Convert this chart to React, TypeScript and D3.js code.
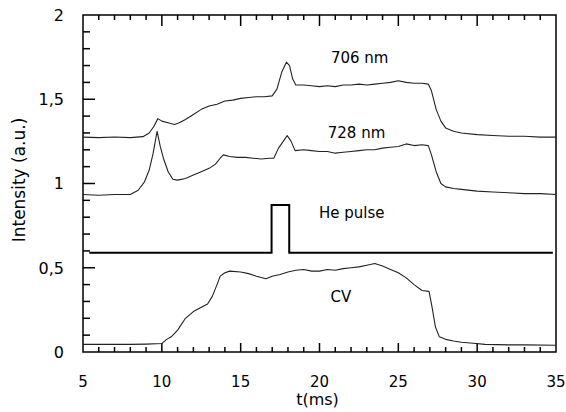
import React, { useEffect, useRef } from 'react';
import * as d3 from 'd3';

// trace data: [t (ms), intensity (a.u.)]
const trace706: [number, number][] = [
  [5.0, 1.275], [6, 1.272], [7, 1.276], [8, 1.272], [8.8, 1.278], [9.2, 1.3], [9.5, 1.34], [9.75, 1.385],
  [10.0, 1.37], [10.4, 1.36], [10.8, 1.35], [11.1, 1.36], [11.5, 1.38], [12.0, 1.41], [12.5, 1.44],
  [13.0, 1.46], [13.5, 1.47], [14.0, 1.49], [14.5, 1.495], [15, 1.505], [15.5, 1.51], [16, 1.515],
  [16.5, 1.515], [17.0, 1.52], [17.3, 1.56], [17.6, 1.66], [17.9, 1.72], [18.1, 1.7], [18.3, 1.62],
  [18.5, 1.585], [19, 1.585], [19.5, 1.58], [20, 1.575], [20.5, 1.58], [21, 1.575], [21.5, 1.585],
  [22, 1.585], [22.5, 1.59], [23, 1.585], [23.5, 1.59], [24, 1.595], [24.5, 1.6], [25, 1.61],
  [25.5, 1.6], [26, 1.595], [26.5, 1.595], [26.9, 1.59], [27.1, 1.55], [27.4, 1.44], [27.7, 1.37],
  [28.0, 1.33], [28.5, 1.31], [29, 1.3], [30, 1.29], [31, 1.285], [32, 1.28], [33, 1.28], [34, 1.275], [35, 1.275],
];

const trace728: [number, number][] = [
  [5, 0.935], [6, 0.93], [7, 0.935], [8, 0.935], [8.5, 0.96], [8.9, 1.01], [9.2, 1.08], [9.45, 1.18],
  [9.7, 1.31], [9.9, 1.22], [10.1, 1.15], [10.4, 1.07], [10.7, 1.025], [11.0, 1.02], [11.5, 1.03],
  [12, 1.05], [12.5, 1.07], [13.0, 1.09], [13.4, 1.115], [13.7, 1.15], [13.9, 1.17], [14.3, 1.16],
  [14.8, 1.155], [15.3, 1.155], [15.8, 1.15], [16.3, 1.145], [16.8, 1.15], [17.1, 1.15], [17.4, 1.21],
  [17.7, 1.25], [17.95, 1.285], [18.2, 1.25], [18.45, 1.195], [19, 1.2], [19.5, 1.195], [20, 1.19],
  [20.5, 1.19], [21, 1.18], [21.5, 1.185], [22, 1.19], [22.5, 1.195], [23, 1.2], [23.5, 1.2],
  [24, 1.21], [24.5, 1.215], [25, 1.22], [25.5, 1.235], [26, 1.225], [26.5, 1.23], [26.9, 1.225],
  [27.1, 1.17], [27.4, 1.07], [27.7, 1.0], [28, 0.98], [28.5, 0.97], [29, 0.965], [30, 0.955],
  [31, 0.95], [32, 0.945], [33, 0.94], [34, 0.94], [35, 0.935],
];

const hePulse: [number, number][] = [
  [5.4, 0.589], [16.96, 0.589], [16.96, 0.873], [18.08, 0.873], [18.08, 0.589], [34.8, 0.589],
];

const traceCV: [number, number][] = [
  [5, 0.045], [6, 0.045], [7, 0.045], [8, 0.045], [9, 0.047], [10, 0.05], [10.3, 0.075], [10.6, 0.09],
  [11, 0.13], [11.5, 0.2], [12, 0.24], [12.5, 0.265], [12.9, 0.285], [13.2, 0.33], [13.5, 0.4],
  [13.7, 0.45], [14, 0.47], [14.3, 0.48], [15, 0.475], [15.5, 0.465], [16, 0.45], [16.6, 0.435],
  [17, 0.45], [17.5, 0.46], [18, 0.475], [18.5, 0.485], [19, 0.49], [19.5, 0.48], [20, 0.48],
  [20.5, 0.49], [21, 0.485], [21.5, 0.495], [22, 0.5], [22.5, 0.505], [23, 0.515], [23.5, 0.525],
  [24, 0.51], [24.5, 0.49], [25, 0.47], [25.5, 0.44], [26, 0.4], [26.5, 0.365], [26.95, 0.36],
  [27.15, 0.26], [27.35, 0.15], [27.6, 0.09], [28, 0.075], [28.5, 0.065], [29, 0.058], [29.75, 0.052],
  [30.5, 0.045], [32, 0.042], [33, 0.042], [35, 0.04],
];

const labels: { text: string; t: number; v: number }[] = [
  { text: '706 nm', t: 22.55, v: 1.715 },
  { text: '728 nm', t: 22.35, v: 1.27 },
  { text: 'He pulse', t: 22.05, v: 0.795 },
  { text: 'CV', t: 21.35, v: 0.296 },
];

const xTickLabels = [5, 10, 15, 20, 25, 30, 35];
const yTickLabels = ['0', '0,5', '1', '1,5', '2'];

const App = () => {
  const svgRef = useRef<SVGSVGElement>(null);

  useEffect(() => {
    const svg = d3.select(svgRef.current);
    svg.selectAll('*').remove();

    const width = 566;
    const height = 412;
    const margin = { top: 15, right: 10, bottom: 60, left: 83 };

    const x = d3.scaleLinear().domain([5, 35]).range([margin.left, width - margin.right]);
    const y = d3.scaleLinear().domain([0, 2]).range([height - margin.bottom, margin.top]);
    const font = '"DejaVu Sans", Verdana, sans-serif';

    // frame
    svg.append('rect')
      .attr('x', x(5)).attr('y', y(2))
      .attr('width', x(35) - x(5)).attr('height', y(0) - y(2))
      .attr('fill', 'none').attr('stroke', '#000').attr('stroke-width', 1.5);

    // ticks
    const xMinor = d3.range(6, 35, 1);
    const yMinor = d3.range(1, 20, 1).map((d) => d / 10);
    const g = svg.append('g').attr('stroke', '#000').attr('stroke-width', 1.5);
    xMinor.forEach((t) => {
      const major = t % 5 === 0;
      g.append('line').attr('x1', x(t)).attr('x2', x(t))
        .attr('y1', y(0)).attr('y2', y(0) - (major ? 9 : 5));
      g.append('line').attr('x1', x(t)).attr('x2', x(t))
        .attr('y1', y(2)).attr('y2', y(2) + (major ? 11 : 5));
    });
    yMinor.forEach((v) => {
      const major = Math.round(v * 10) % 5 === 0;
      g.append('line').attr('x1', x(5)).attr('x2', x(5) + (major ? 12 : 7))
        .attr('y1', y(v)).attr('y2', y(v));
    });

    // tick labels
    svg.append('g').selectAll('text').data(xTickLabels).enter().append('text')
      .attr('x', (d) => x(d)).attr('y', y(0) + 35)
      .attr('text-anchor', 'middle').attr('font-family', font).attr('font-size', 15)
      .text((d) => d);
    svg.append('g').selectAll('text').data(yTickLabels).enter().append('text')
      .attr('x', x(5) - 19).attr('y', (d, i) => y(i * 0.5))
      .attr('dy', '0.36em')
      .attr('text-anchor', 'end').attr('font-family', font).attr('font-size', 16)
      .text((d) => d);

    // axis titles
    svg.append('text')
      .attr('x', (x(5) + x(35)) / 2 - 2).attr('y', height - 7)
      .attr('text-anchor', 'middle').attr('font-family', font).attr('font-size', 16)
      .text('t(ms)');
    svg.append('text')
      .attr('transform', `translate(25,${180}) rotate(-90)`)
      .attr('text-anchor', 'middle').attr('font-family', font).attr('font-size', 17)
      .text('Intensity (a.u.)');

    // traces
    const line = d3.line<[number, number]>().x((d) => x(d[0])).y((d) => y(d[1]));
    [trace706, trace728, traceCV].forEach((tr) => {
      svg.append('path').datum(tr).attr('d', line)
        .attr('fill', 'none').attr('stroke', '#222').attr('stroke-width', 1.1)
        .attr('stroke-linejoin', 'round');
    });
    svg.append('path').datum(hePulse).attr('d', line)
      .attr('fill', 'none').attr('stroke', '#000').attr('stroke-width', 2);

    // annotations
    svg.append('g').selectAll('text').data(labels).enter().append('text')
      .attr('x', (d) => x(d.t)).attr('y', (d) => y(d.v))
      .attr('text-anchor', 'middle').attr('font-family', font).attr('font-size', 15)
      .text((d) => d.text);
  }, []);

  return (
    <svg
      ref={svgRef}
      width={566}
      height={412}
      style={{ position: 'absolute', left: 0, top: 0, background: '#fff' }}
    />
  );
};

export default App;
